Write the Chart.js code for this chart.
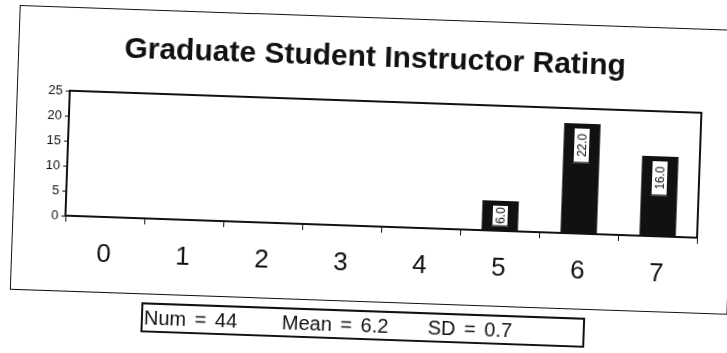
<!DOCTYPE html>
<html>
<head>
<meta charset="utf-8">
<script src="https://cdn.jsdelivr.net/npm/chart.js@4/dist/chart.umd.min.js"></script>
<style>
    html, body { margin: 0; padding: 0; background: #fff; }
    body { width: 727px; height: 353px; overflow: hidden; position: relative; font-family: "Liberation Sans", Arial, sans-serif; }
    .page { position: absolute; left: 0; top: 0; width: 727px; height: 353px; transform: rotate(2deg); transform-origin: 363px 176px; }
    .frame { position: absolute; left: 14px; top: 17px; width: 716px; height: 283px; border: 1px solid #111; }
    .stats { position: absolute; left: 146px; top: 310px; width: 444px; height: 30px; border: 2px solid #111; font-size: 20px; line-height: 27px; color: #111; box-sizing: border-box; white-space: nowrap; }
    .stats span { position: absolute; top: 0; word-spacing: 3px; }
    #chart { position: absolute; left: 0; top: 0; }
</style>
</head>
<body>
<div class="page">
    <div class="frame"></div>
    <canvas id="chart" width="727" height="353"></canvas>
    <div class="stats"><span style="left:1px">Num = 44</span><span style="left:139px">Mean = 6.2</span><span style="left:285px">SD = 0.7</span></div>
</div>
<script>
var titleText = 'Graduate Student Instructor Rating';
var ratings = ['0', '1', '2', '3', '4', '5', '6', '7'];
var counts = [0, 0, 0, 0, 0, 6, 22, 16];
var yTicks = [0, 5, 10, 15, 20, 25];

var FONT = '"Liberation Sans", Arial, sans-serif';

// white boxed value labels, rotated, near the top of each bar
var valueLabels = {
    id: 'valueLabels',
    afterDatasetsDraw: function (chart) {
        var ctx = chart.ctx;
        var meta = chart.getDatasetMeta(0);
        ctx.save();
        ctx.font = '12px ' + FONT;
        meta.data.forEach(function (bar, i) {
            if (!counts[i]) return;
            var text = counts[i].toFixed(1);
            var w = 17;
            var h = Math.min(ctx.measureText(text).width + 12, bar.base - bar.y - 8);
            var x = bar.x - w / 2, y = bar.y + 4;
            ctx.fillStyle = '#fff';
            ctx.fillRect(x, y, w, h);
            ctx.strokeStyle = '#111';
            ctx.lineWidth = 1;
            ctx.strokeRect(x + 0.5, y + 0.5, w - 1, h - 1);
            ctx.translate(bar.x, y + h / 2);
            ctx.rotate(-Math.PI / 2);
            ctx.fillStyle = '#111';
            ctx.textAlign = 'center';
            ctx.textBaseline = 'middle';
            ctx.fillText(text, 0, 1);
            ctx.setTransform(1, 0, 0, 1, 0, 0);
        });
        ctx.restore();
    }
};

// box around the plot area
var plotBox = {
    id: 'plotBox',
    afterDraw: function (chart) {
        var a = chart.chartArea, ctx = chart.ctx;
        ctx.save();
        ctx.strokeStyle = '#111';
        ctx.lineWidth = 2;
        ctx.strokeRect(a.left, a.top, a.right - a.left, a.bottom - a.top);
        ctx.restore();
    }
};

new Chart(document.getElementById('chart').getContext('2d'), {
    type: 'bar',
    data: {
        labels: ratings,
        datasets: [{
            data: counts,
            backgroundColor: '#111',
            borderWidth: 0,
            barPercentage: 0.46,
            categoryPercentage: 1
        }]
    },
    options: {
        responsive: false,
        animation: false,
        events: [],
        layout: { padding: { left: 27, right: 12, top: 0, bottom: 67 } },
        plugins: {
            legend: { display: false },
            tooltip: { enabled: false },
            title: {
                display: true,
                text: titleText,
                color: '#111',
                font: { family: FONT, size: 30, weight: 'bold', lineHeight: 1.2 },
                padding: { top: 40, bottom: 25 }
            }
        },
        scales: {
            x: {
                grid: { display: true, drawOnChartArea: false, offset: true, color: '#111', tickLength: 6 },
                border: { display: false },
                ticks: { color: '#111', padding: 16, font: { family: FONT, size: 26 } },
                afterFit: function (scale) { scale.height = 60; }
            },
            y: {
                min: 0,
                max: 25,
                afterBuildTicks: function (scale) {
                    scale.ticks = yTicks.map(function (v) { return { value: v }; });
                },
                grid: { display: true, drawOnChartArea: false, color: '#111', tickLength: 4 },
                border: { display: false },
                ticks: { color: '#111', padding: 3, font: { family: FONT, size: 13 } },
                afterFit: function (scale) { scale.width = 40; }
            },
            // empty spacer so the plot ends where the original does
            spacer: {
                type: 'linear',
                position: 'right',
                display: true,
                grid: { display: false },
                border: { display: false },
                ticks: { display: false },
                afterFit: function (scale) { scale.width = 16; }
            }
        }
    },
    plugins: [valueLabels, plotBox]
});
</script>
</body>
</html>
